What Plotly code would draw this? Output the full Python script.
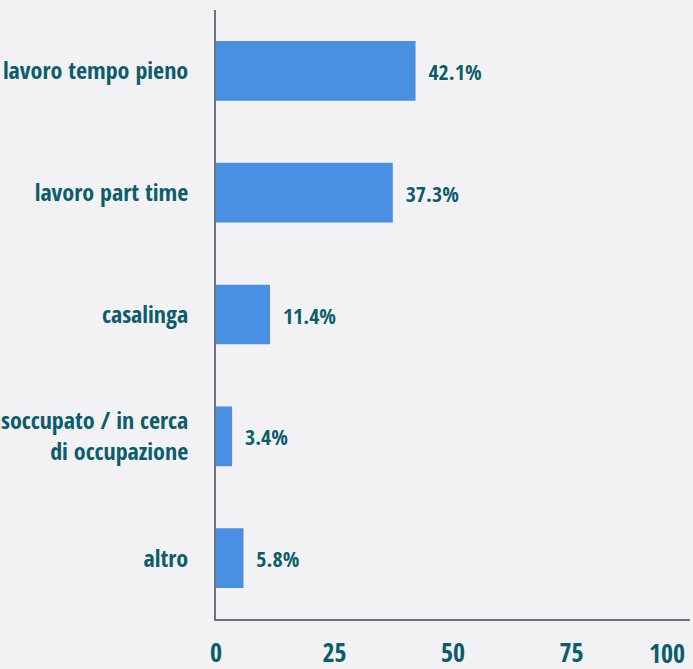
import plotly.graph_objects as go

categories = ["lavoro tempo pieno", "lavoro part time", "casalinga",
              "disoccupato / in cerca<br>di occupazione", "altro"]
values = [42.1, 37.3, 11.4, 3.4, 5.8]
labels = ["42.1%", "37.3%", "11.4%", "3.4%", "5.8%"]
tick_vals = [0, 25, 50, 75, 100]

TEAL = "#0b5d6b"
FONT = "Open Sans Condensed, Roboto Condensed, sans-serif"

fig = go.Figure(go.Bar(
    x=values, y=categories, orientation="h",
    marker=dict(color="#4a90e2", line=dict(width=0)),
    text=labels, texttemplate=" \u2009%{text}", textposition="outside", cliponaxis=False,
    textfont=dict(family=FONT, size=22, color=TEAL, weight="bold",
                  shadow="0px 0px 3px white"),
    width=0.49, hoverinfo="skip",
))

fig.update_layout(
    width=693, height=669,
    margin=dict(l=216, r=3, t=10, b=50, autoexpand=False),
    paper_bgcolor="#f2f2f4", plot_bgcolor="rgba(0,0,0,0)",
    showlegend=False,
    font=dict(family=FONT, color=TEAL, size=24, weight="bold"),
)
fig.update_xaxes(
    range=[0, 100], tickvals=tick_vals[:-1], showgrid=False, zeroline=False,
    showline=True, linecolor="#6b747c", linewidth=2, ticks="", automargin=False,
    tickfont=dict(family=FONT, size=26, color=TEAL, weight="bold"),
    ticklabelstandoff=10,
)
fig.update_yaxes(
    autorange="reversed", showgrid=False, zeroline=False, automargin=False,
    showline=True, linecolor="#6b747c", linewidth=2, ticks="",
    tickfont=dict(family=FONT, size=24, color=TEAL, weight="bold"),
    ticklabelstandoff=21,
)
fig.add_annotation(
    x=tick_vals[-1], xref="x", y=0, yref="paper", yshift=-14, xshift=-3,
    text=str(tick_vals[-1]), showarrow=False, xanchor="right", yanchor="top",
    font=dict(family=FONT, size=26, color=TEAL, weight="bold"),
)

fig.write_html("out.html", config={"displayModeBar": False},
               post_script="document.body.style.margin='0';")
